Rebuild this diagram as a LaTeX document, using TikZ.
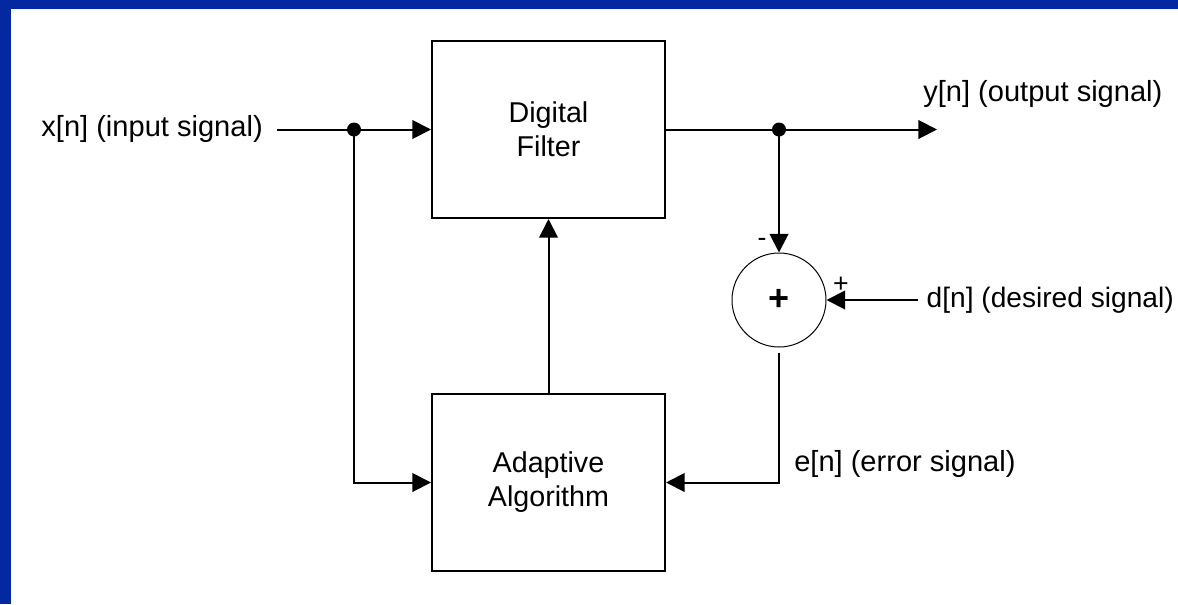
\documentclass[tikz,border=0pt]{standalone}
\usepackage{fontspec}
\setmainfont{Liberation Sans}
\usetikzlibrary{arrows.meta}
\definecolor{slideblue}{RGB}{3,40,160}
\tikzset{
  block/.style={draw,line width=1.5pt,minimum width=174.75pt,minimum height=132.75pt,
    align=center,inner sep=0pt,font=\fontsize{21.5}{25.5}\selectfont},
  sumnode/.style={draw,circle,line width=0.75pt,minimum size=70.5pt,inner sep=0pt,
    font=\fontsize{27}{30}\selectfont\bfseries},
  wire/.style={line width=1.5pt},
  sig/.style={wire,-{Triangle[length=14pt,width=14pt]}},
  lbl/.style={inner sep=0pt,font=\fontsize{21.8}{25}\selectfont},
  sgn/.style={inner sep=0pt,font=\fontsize{20}{22}\selectfont},
}
\begin{document}
\begin{tikzpicture}[x=0.75pt,y=-0.75pt]
%frame
\useasboundingbox (0,0) rectangle (1178,604);
\fill[slideblue] (0,0) rectangle (1178,9);
\fill[slideblue] (0,0) rectangle (11,604);
%blocks
\node[block] (filter) at (548.5,129.5) {Digital\\Filter};
\node[block] (adapt) at (548.5,482.5) {Adaptive\\Algorithm};
\node[sumnode] (sum) at (779,300) {+};
%labels
\node[lbl,anchor=east] (xlbl) at (263,129) {x[n] (input signal)};
\node[lbl,anchor=west] (ylbl) at (923,94) {y[n] (output signal)};
\node[lbl,anchor=east,font=\fontsize{21.1}{25}\selectfont] (dlbl) at (1174,300) {d[n] (desired signal)};
\node[lbl,anchor=west] (elbl) at (794,464) {e[n] (error signal)};
\node[sgn] (minus) at (762,242) {-};
\node[sgn,font=\fontsize{20}{22}\selectfont\rmfamily] (plus) at (841,285) {+};
%points
\coordinate (xin) at (277,129.5);
\coordinate (split) at (354,129.5);
\coordinate (tap) at (779,129.5);
\coordinate (yout) at (937,129.5);
\coordinate (din) at (918,300);
\fill (split) circle (7);
\fill (tap) circle (7);
%signals
\draw[wire] (xin) -- (split);
\draw[sig] (split) -- (filter.west);
\draw[sig] (split) |- (adapt.west);
\draw[wire] (filter.east) -- (tap);
\draw[sig] (tap) -- (yout);
\draw[sig] (tap) -- (sum.north);
\draw[sig] (din) -- (sum.east);
\draw[sig,shorten <=4pt] (sum.south) |- (adapt.east);
\draw[sig] (adapt.north) -- (filter.south);
\end{tikzpicture}
\end{document}
